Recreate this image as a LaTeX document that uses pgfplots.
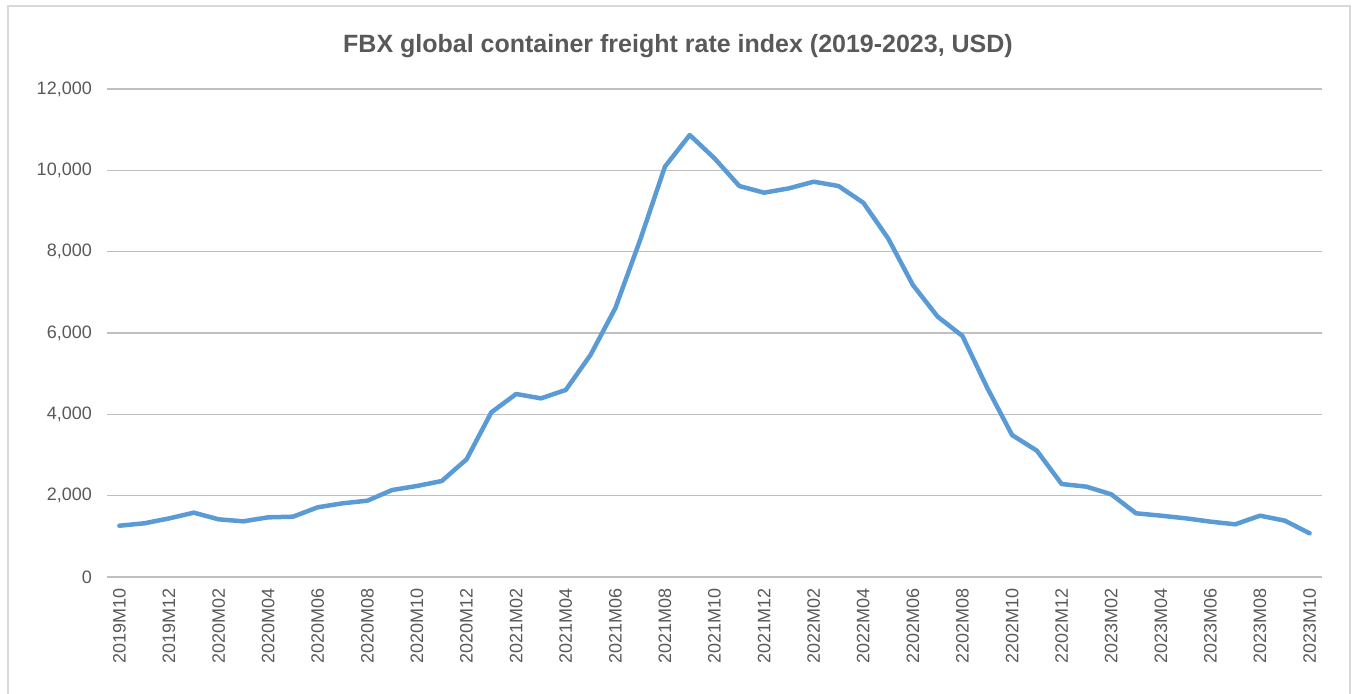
\documentclass[border=0pt]{standalone}
\usepackage{pgfplots}
\pgfplotsset{compat=1.18}
\usepackage{fontspec}
\setmainfont{Liberation Sans}
\definecolor{txt}{HTML}{595959}
\definecolor{grid}{HTML}{D9D9D9}
\definecolor{line}{HTML}{5B9BD5}
\begin{document}
\begin{tikzpicture}[x=1bp,y=1bp]
\useasboundingbox (0,0) rectangle (1356,693);
\draw[grid, line width=1.5bp] (8,-5) -- (8,687) -- (1350,687) -- (1350,-5);
\node[text=txt, font=\fontsize{25bp}{30bp}\selectfont\bfseries] at (678,647) {FBX global container freight rate index (2019-2023, USD)};
\begin{axis}[
  at={(107bp,116bp)}, anchor=south west,
  scale only axis, width=1215bp, height=488bp,
  xmin=-0.5, xmax=48.5, ymin=0, ymax=12000,
  axis line style={draw=none},
  major tick length=0pt,
  xmajorgrids=false, ymajorgrids=true, grid style={grid, line width=1.2bp},
  scaled y ticks=false,
  ytick={0,2000,...,12000},
  xtick={0,2,...,48},
  xticklabels={2019M10,2019M12,2020M02,2020M04,2020M06,2020M08,2020M10,2020M12,2021M02,2021M04,2021M06,2021M08,2021M10,2021M12,2022M02,2022M04,2202M06,2202M08,2202M10,2202M12,2023M02,2023M04,2023M06,2023M08,2023M10},
  xticklabel style={rotate=90, anchor=east, text=txt, font=\fontsize{18bp}{22bp}\selectfont, inner sep=0pt},
  xticklabel shift=11bp,
  yticklabel style={text=txt, font=\fontsize{18bp}{22bp}\selectfont, inner sep=0pt},
  yticklabel shift=15bp,
  /pgf/number format/assume math mode=true,
  /pgf/number format/1000 sep={,},
]
\addplot[line, line width=4.5bp, line join=round, line cap=round] coordinates {
(0,1261) (1,1320) (2,1440) (3,1582) (4,1418) (5,1369) (6,1467) (7,1483)
(8,1714) (9,1812) (10,1876) (11,2139) (12,2238) (13,2360) (14,2893) (15,4049)
(16,4500) (17,4393) (18,4598) (19,5460) (20,6610) (21,8286) (22,10090) (23,10868)
(24,10295) (25,9614) (26,9450) (27,9557) (28,9720) (29,9614) (30,9204) (31,8328)
(32,7180) (33,6401) (34,5926) (35,4650) (36,3491) (37,3106) (38,2287) (39,2221)
(40,2033) (41,1566) (42,1508) (43,1443) (44,1361) (45,1295) (46,1508) (47,1385)
(48,1074)
};
\end{axis}
\end{tikzpicture}
\end{document}
